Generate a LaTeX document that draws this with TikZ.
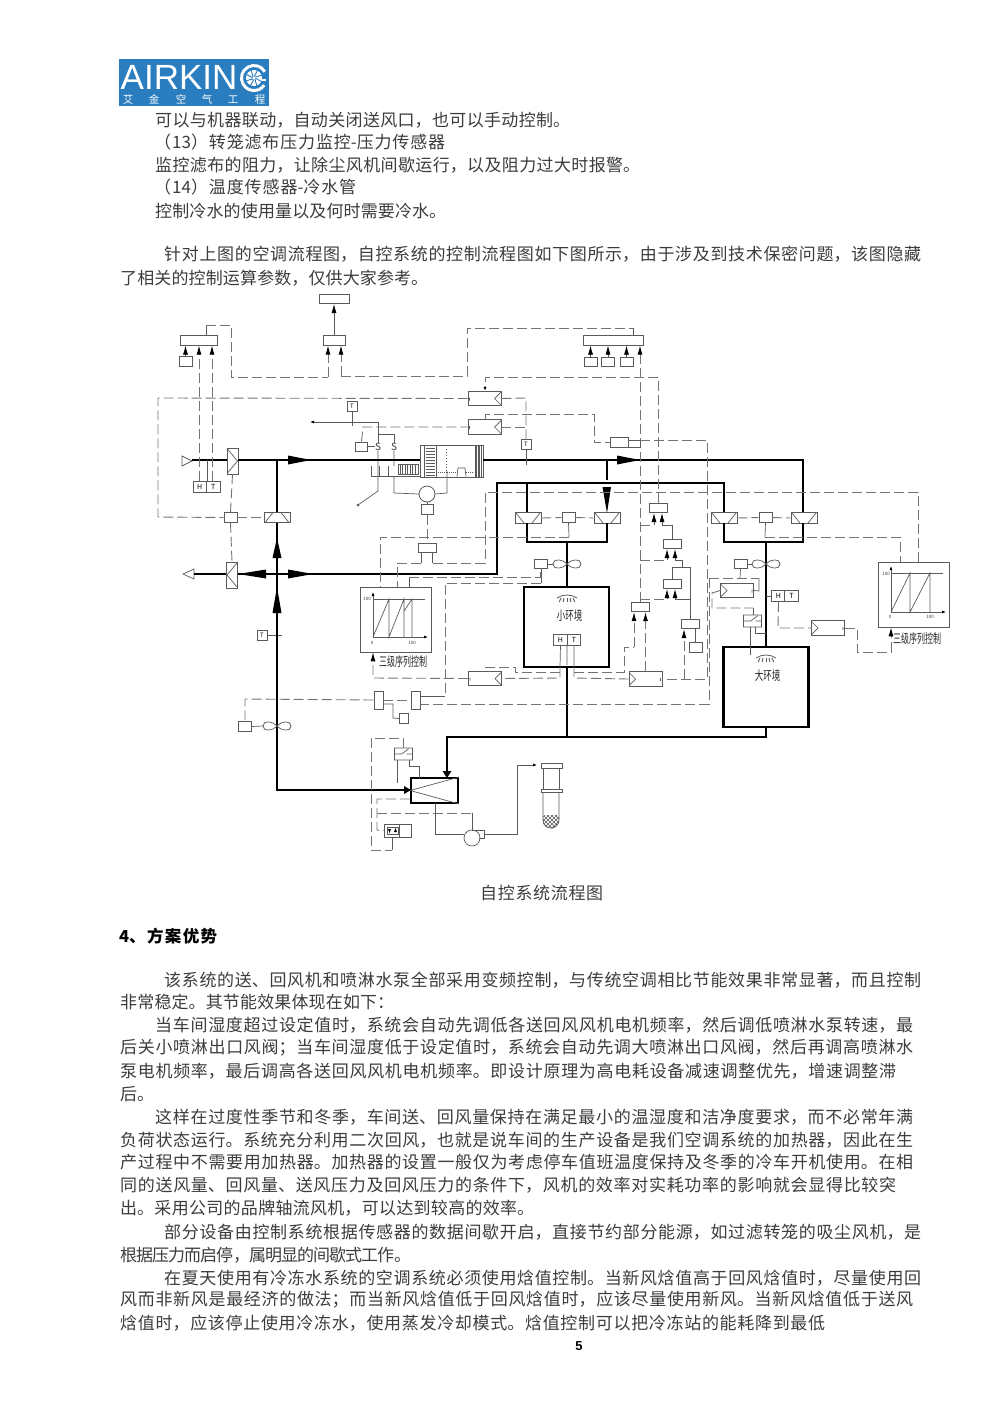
\documentclass[tikz,border=0pt]{standalone}
\usepackage{fontspec}
\setmainfont{Noto Sans CJK SC}
\newfontfamily\logofont{Liberation Sans}
\usetikzlibrary{arrows.meta}
\XeTeXlinebreaklocale "zh"
\XeTeXlinebreakskip=0pt plus 3pt minus 1pt
\tolerance=9999
\definecolor{logoblue}{RGB}{42,125,190}
\definecolor{inktext}{RGB}{60,60,60}
\definecolor{wirecol}{RGB}{90,90,90}
\definecolor{sigcol}{RGB}{115,115,115}
\tikzset{
  line/.style={anchor=west, inner sep=0pt, text=inktext, text width=#1, align=justify,
    font=\fontsize{17}{20}\selectfont, execute at begin node={\parfillskip=0pt\relax}},
  duct/.style={line width=2.8pt, line join=miter},
  wire/.style={draw=wirecol, line width=.7pt},
  sig/.style={draw=sigcol, line width=.9pt, dash pattern=on 10pt off 4pt},
  uptip/.style={-{Latex[length=9pt,width=5pt,black]}},
  smalltip/.style={-{Latex[length=4pt,width=3pt,black]}},
  ctrl/.style={draw=wirecol, line width=.7pt, fill=white, inner sep=0pt, minimum height=9.5pt},
  sbox/.style={ctrl, minimum width=13pt},
  cell/.style={ctrl, minimum width=13.5pt, minimum height=11pt, font=\fontsize{7}{8}\selectfont},
  tbox/.style={ctrl, minimum width=10pt, minimum height=9.5pt, font=\fontsize{6}{7}\selectfont},
  room/.style={draw, line width=2.6pt, inner sep=0pt, minimum width=85pt},
  chart/.style={draw=wirecol, line width=.7pt, inner sep=0pt, minimum width=71pt, minimum height=65pt},
  damperdown/.style={ctrl, minimum width=26pt, minimum height=10.5pt, path picture={
    \draw[wire, shift={(path picture bounding box.center)}] (-12,-5) -- (-4,5) (12,-5) -- (4,5);}},
  damperup/.style={ctrl, minimum width=26pt, minimum height=10.5pt, path picture={
    \draw[wire, shift={(path picture bounding box.center)}] (-12,5) -- (-4,-5) (12,5) -- (4,-5);}},
  damperright/.style={ctrl, minimum width=11pt, minimum height=26pt, path picture={
    \draw[wire, shift={(path picture bounding box.center)}] (-5,-12) -- (5,0) -- (-5,12);}},
  damperleft/.style={ctrl, minimum width=11pt, minimum height=26pt, path picture={
    \draw[wire, shift={(path picture bounding box.center)}] (5,-12) -- (-5,0) -- (5,12);}},
  valvetail/.style={ctrl, minimum width=33pt, minimum height=14.5pt, path picture={
    \draw[wire, shift={(path picture bounding box.center)}] (17,-7) -- (10,0) -- (17,7) (-15,-1) -- (-15,2);}},
  valvehead/.style={ctrl, minimum width=33pt, minimum height=14.5pt, path picture={
    \draw[wire, shift={(path picture bounding box.center)}] (-17,-7) -- (-10,0) -- (-17,7) (15,-1) -- (15,2);}},
  tiny/.style={inner sep=0pt, text=inktext, font=\fontsize{4.5}{5}\selectfont},
  roomname/.style={inner sep=0pt, text=black!85, font=\fontsize{8.5}{9}\selectfont},
  fan/.pic={\draw[wire] (0,0) .. controls (-4,-5) and (-14,-6) .. (-14,0) .. controls (-14,6) and (-4,5) .. (0,0)
    .. controls (4,-5) and (14,-6) .. (14,0) .. controls (14,6) and (4,5) .. (0,0);},
  spray/.pic={\draw[wire, line width=.8pt] (-10,3) .. controls (-4,-1) and (4,-1) .. (10,3);
    \foreach \x in {-6,-3,0,3,6} {\draw[wire, line width=.9pt] (\x,3) -- (1.3*\x,7);}},
  switchbox/.pic={\draw[wire, fill=white] (-9,-6) rectangle (9,6) (-9,0) -- (-2,0) (9,0) -- (3,0) (-2,0) -- (5,-5);},
}
\begin{document}
\begin{tikzpicture}[x=1pt,y=-1pt]
\useasboundingbox (0,0) rectangle (1000,1414);
% logo
\fill[logoblue] (119,59) rectangle (269,106);
\node[inner sep=0pt, anchor=west, white, font=\logofont\fontsize{35}{36}\selectfont] (logoname) at (120.5,77.5) {AIRKIN};
\draw[white, line width=3pt] (254,78) ++(-30:12.5) arc[start angle=-30, end angle=-325, radius=12.5];
\draw[white, line width=2pt] (265.5,80) -- (258,80);
\fill[white] (254,78) circle (8);
\foreach \a in {0,45,...,315} {\draw[logoblue, line width=.9pt] (254,78) ++(\a:1.5) .. controls +(\a+40:3) and +(\a+20:2) .. ++(\a+30:6.5);}
\foreach \x/\c in {128/艾,154/金,181/空,207/气,233/工,260/程} {\node[white, inner sep=0pt, font=\fontsize{10.5}{11}\selectfont] (sub\x) at (\x,99.5) {\c};}

% upper text
\node[line=415pt] (t1) at (155,120) {可以与机器联动，自动关闭送风口，也可以手动控制。};
\node[line=282pt] (t2) at (163,142) {\kern-9pt（\kern1pt 13）转笼滤布压力监控-压力传感器};
\node[line=485pt] (t3) at (155,165) {监控滤布的阻力，让除尘风机间歇运行，以及阻力过大时报警。};
\node[line=193pt] (t4) at (163,187) {\kern-9pt（\kern1pt 14）温度传感器-冷水管};
\node[line=291pt] (t5) at (155,211) {控制冷水的使用量以及何时需要冷水。};
\node[line=757pt] (t6) at (164,254) {针对上图的空调流程图，自控系统的控制流程图如下图所示，由于涉及到技术保密问题，该图隐藏};
\node[line=308pt] (t7) at (120,278) {了相关的控制运算参数，仅供大家参考。};

% controllers
\node[ctrl, minimum width=37pt] (ctrlA) at (198.5,340.5) {};
\node[ctrl, minimum width=22pt] (ctrlB) at (334,340.5) {};
\node[ctrl, minimum width=30pt] (ctrlTop) at (334,299) {};
\node[ctrl, minimum width=60pt] (ctrlC) at (613,340.5) {};
\node[ctrl, minimum width=18pt] (ctrlD) at (658,508) {};
\node[ctrl, minimum width=18pt] (ctrlE) at (672,544) {};
\node[ctrl, minimum width=18pt] (ctrlF) at (672,584) {};
\node[ctrl, minimum width=18pt] (ctrlG) at (640,607) {};
\node[ctrl, minimum width=18pt] (ctrlH) at (690,624) {};
\node[ctrl, minimum width=18pt] (ctrlJ) at (427,548) {};
\node[sbox] (inA) at (185.5,361.5) {};
\node[sbox] (inC1) at (590.5,362) {};
\node[sbox] (inC2) at (608,362) {};
\node[sbox] (inC3) at (626.5,362) {};
\node[sbox] (inH) at (695.5,647.5) {};

% valves
\node[valvetail] (valveA) at (484.5,398.5) {};
\node[valvetail] (valveB) at (484.5,427) {};
\node[valvetail] (valveC) at (485,678.5) {};
\node[valvehead] (valveD) at (645.5,679) {};
\node[valvehead] (valveE) at (737,590.5) {};
\node[valvehead] (valveF) at (828,628) {};
\node[tbox] (tA) at (526,444.5) {T};
\node[tbox] (tB) at (352,406.5) {T};
\node[tbox] (tC) at (262,635.5) {T};
\node[ctrl, minimum width=18pt] (rod) at (619,442.5) {};

% outdoor side
\draw[wire, fill=white] (182,456) -- (192,461) -- (182,466) -- cycle;
\draw[wire, fill=white] (194,569) -- (183,574) -- (194,579) -- cycle;
\coordinate (inlet) at (192,460);
\coordinate (outlet) at (194,574);
\node[damperright] (dTop) at (232.5,461) {};
\node[damperleft] (dLow) at (232,575) {};
\node[damperup] (dMix) at (277,517.5) {};
\node[sbox] (dBox) at (230.5,517.5) {};
\node[cell] (hA) at (199.75,486.5) {H};
\node[cell] (tempA) at (213.25,486.5) {T};
\draw[wire] (tC.east) -- (282,635.5);

% air handler
\node[draw=wirecol, line width=.8pt, fill=white, inner sep=0pt, minimum width=63pt, minimum height=32pt] (ahu) at (451.5,461) {};
\draw[wire] (424,445) -- (424,477) (436,445) -- (436,477);
\foreach \y in {448,451,...,475} {\draw[wire, line width=.5pt] (425.5,\y) -- (434.5,\y);}
\foreach \x in {475,476.5,...,482} {\draw[wire, line width=.5pt] (\x,445) -- (\x,477);}
\draw[wire, line width=1pt, dotted] (446,449) -- (446,471);
\draw[wire, line width=.9pt, densely dotted] (436,472) -- (474,472);
\draw[wire, fill=white] (457,476.5) -- (458,468) -- (465,468) -- (466,476.5);
\draw[wire] (398,464) rectangle (418,474);
\foreach \x in {400,402.5,...,416} {\draw[wire, line width=.6pt] (\x,464) -- (\x,474);}
\draw[wire] (371,466) -- (371,476) -- (420,476) (379,466) -- (379,476) (388,466) -- (388,476);
\node[inner sep=0pt, fill=white, font=\fontsize{10}{11}\selectfont, text=inktext] (stemA) at (378,446.5) {S};
\node[inner sep=0pt, fill=white, font=\fontsize{10}{11}\selectfont, text=inktext] (stemB) at (394,446.5) {S};
\node[sbox, minimum width=11.5pt, minimum height=9pt] (actA) at (361.5,446.5) {};
\coordinate (rodEnd) at (358,505);
\coordinate (sensEnd) at (310,422);
\node[draw=wirecol, line width=.8pt, circle, fill=white, inner sep=0pt, minimum size=16pt] (motor) at (427,494) {};
\node[sbox, minimum width=12pt] (motorBox) at (427,509.5) {};

% wires round the air handler
\draw[wire, smalltip] (378,422) -- (sensEnd);
\draw[wire] (tB.south) -- (352,426);
\draw[wire] (378,422) -- (stemA.north);
\draw[wire] (stemA.south) -- (378,491) -- (rodEnd);
\fill[wirecol] (rodEnd) circle (1.5pt);
\draw[wire] (378,434) -- (394,434) -- (stemB.north);
\draw[wire] (stemB.south) -- (394,466) (394,476) -- (394,493) -- (motor.west);
\draw[wire] (motor.east) -- (447,493) -- (447,471);
\draw[wire] (actA.east) -- (stemA.west);
\draw[wire] (motor.south) -- (motorBox.north);

% supply and return ducts
\draw[duct] (inlet) -- (dTop.west |- inlet);
\draw[duct] (dTop.east |- inlet) -- (ahu.west |- inlet);
\draw[duct] (ahu.east |- inlet) -- (803,460) -- (803,513);
\draw[duct] (277,460) -- (dMix.north);
\draw[duct] (dMix.south) -- (277,790) -- (411,790);
\draw[duct] (outlet) -- (dLow.west |- outlet);
\draw[duct] (dLow.east |- outlet) -- (497,574) -- (497,483) -- (724,483) -- (724,513);
\draw[duct] (527,483) -- (527,513);
\draw[duct] (607,460) -- (607,480);
\fill (288,455.5) -- (311,460) -- (288,464.5) -- cycle;
\fill (617,455.5) -- (640,460) -- (617,464.5) -- cycle;
\fill (602.5,487) -- (611,487) -- (607,513) -- cycle;
\fill (277,538) -- (272.5,558) -- (281.5,558) -- cycle;
\fill (277,587) -- (272.5,613) -- (281.5,613) -- cycle;
\fill (238,574) -- (266,569.5) -- (266,578.5) -- cycle;
\fill (313,574) -- (288,569.5) -- (288,578.5) -- cycle;

% rooms with dampers
\node[damperdown] (dm1) at (528,518) {};
\node[damperdown] (dm2) at (607,518) {};
\node[sbox] (dmBoxA) at (568.5,517.5) {};
\node[damperdown] (dm3) at (724,518) {};
\node[damperdown] (dm4) at (804,518) {};
\node[sbox] (dmBoxB) at (765.5,517.5) {};
\node[room, minimum height=80pt] (smallroom) at (566.5,627) {};
\node[room, minimum height=80pt] (bigroom) at (766,687) {};
\draw[duct] (527,523) -- (527,542) -- (607,542) -- (607,523);
\draw[duct] (724,523) -- (724,542) -- (803,542) -- (803,523);
\draw[duct] (567,542) -- (567,587);
\draw[duct] (766,542) -- (766,647);
\draw[duct] (567,667) -- (567,737);
\draw[duct] (766,727) -- (766,737) -- (447,737) -- (447,770);
\pic at (567,564) {fan};
\pic at (766,564) {fan};
\pic at (277,726) {fan};
\node[sbox] (fanBoxA) at (541,564) {};
\node[sbox] (fanBoxB) at (740.5,564) {};
\node[sbox] (fanBoxC) at (244.5,726.5) {};
\draw[wire] (fanBoxA.east) -- (553,564);
\draw[wire] (fanBoxB.east) -- (752,564);
\draw[wire] (fanBoxC.east) -- (263,726);
\pic at (567,595) {spray};
\pic at (766,655) {spray};
\node[roomname] (smallname) at (569.5,616) {\scalebox{1}[1.5]{小环境}};
\node[roomname] (bigname) at (767.5,676) {\scalebox{1}[1.5]{大环境}};
\node[cell] (hB) at (560.5,639.5) {H};
\node[cell] (tempB) at (574,639.5) {T};
\node[cell] (hC) at (778.5,596) {H};
\node[cell] (tempC) at (791.5,596) {T};
\draw[wire] (766,596) -- (hC.west);
\draw[wire] (hB.south) -- (560,667) (567,645) -- (567,665) (574,645) -- (574,667);

% signal lines, upper part
\draw[wire] (ctrlA.north -| 206,0) -- (206,325);
\draw[sig] (206,325) -- (231,325) -- (231,377) -- (328,377);
\draw[sig, uptip] (328,377) -- (ctrlB.south -| 328,0);
\draw[sig, uptip] (341,376) -- (ctrlB.south -| 341,0);
\draw[sig] (341,376) -- (467,376) -- (467,328) -- (633,328);
\draw[wire] (633,328) -- (ctrlC.north -| 633,0);
\draw[wire, uptip] (ctrlB.north) -- (ctrlTop.south);
\draw[wire, uptip] (inA.north) -- (ctrlA.south -| inA.north);
\draw[sig, uptip] (hA.north -| 199,0) -- (ctrlA.south -| 199,0);
\draw[sig, uptip] (tempA.north -| 212,0) -- (ctrlA.south -| 212,0);
\draw[wire] (207,460) -- (207,481);
\draw[wire, uptip] (inC1.north) -- (ctrlC.south -| inC1.north);
\draw[wire, uptip] (inC2.north) -- (ctrlC.south -| inC2.north);
\draw[wire, uptip] (inC3.north) -- (ctrlC.south -| inC3.north);
\draw[sig, uptip] (ctrlG.north) -- (ctrlC.south -| ctrlG.north);
\draw[sig] (valveA.west) -- (158,398) -- (158,517) -- (dBox.west);
\draw[sig] (dBox.east) -- (dMix.west);
\draw[sig] (dTop.south) -- (dBox.north);
\draw[sig] (dBox.south) -- (dLow.north);
\draw[sig, smalltip] (ctrlD.north) -- (658,377) -- (485,377) -- (valveA.north -| 485,0);
\draw[sig] (valveA.east) -- (526,398) -- (tA.north);
\draw[sig] (valveB.east) -- (526,427);
\draw[wire] (tA.south) -- (526,465);
\draw[sig] (valveB.north -| 485,0) -- (485,414) -- (594,414) -- (594,442.5) -- (rod.west);
\draw[sig] (actA.north) -- (363,427) -- (valveB.west);
\draw[wire] (rod.east) ++(0,-2) -- (640,440.5) -- (640,447) -- (628,447);
\draw[sig] (640,440) -- (707,440) -- (707,679) -- (valveD.east);

% signal lines, control chain
\draw[sig] (640,525) -- (654,525);
\draw[wire, uptip] (654,525) -- (ctrlD.south -| 654,0);
\draw[wire, uptip] (672,525) -- (662,525) -- (ctrlD.south -| 662,0);
\draw[wire] (672,525) -- (ctrlE.north);
\draw[sig] (640,560) -- (667,560);
\draw[wire, uptip] (667,560) -- (ctrlE.south -| 667,0);
\draw[wire, uptip] (682,560) -- (675,560) -- (ctrlE.south -| 675,0);
\draw[wire] (682,560) -- (682,567);
\draw[wire] (ctrlF.north) -- (672,567) -- (690,567) -- (690,619);
\draw[sig] (640,599) -- (667,599);
\draw[wire, uptip] (667,599) -- (ctrlF.south -| 667,0);
\draw[wire, uptip] (690,599) -- (675,599) -- (ctrlF.south -| 675,0);
\draw[sig, uptip] (684,679) -- (ctrlH.south -| 684,0);
\draw[wire] (ctrlH.south -| 695,0) -- (inH.north -| 695,0);
\draw[sig, uptip] (634,647) -- (ctrlG.south -| 634,0);
\draw[sig] (574,672) -- (624,672) -- (624,647) -- (634,647);
\draw[sig, uptip] (valveD.north -| 645.5,0) -- (ctrlG.south -| 645.5,0);
\draw[sig] (574,667) -- (574,678) -- (valveD.west);
\draw[sig] (560,667) -- (560,678) -- (valveC.east);
\draw[sig] (560,672) -- (515,672) -- (515,667) -- (485,667) -- (valveC.north);

% signal lines, damper sets
\draw[sig] (dm1.east) -- (dmBoxA.west);
\draw[sig] (dmBoxA.east) -- (dm2.west);
\draw[sig] (dm3.east) -- (dmBoxB.west);
\draw[sig] (dmBoxB.east) -- (dm4.west);
\draw[wire] (dmBoxA.south) -- (569,537);
\draw[sig] (569,537) -- (380,537) -- (380,587);
\draw[wire] (dmBoxB.south) -- (765,537);
\draw[sig] (765,537) -- (900,537) -- (900,562);
\draw[sig] (918,562) -- (918,492) -- (485,492) -- (485,563) -- (432,563);
\draw[wire] (432,563) -- (ctrlJ.south -| 432,0);
\draw[sig] (motorBox.south) -- (ctrlJ.north);
\draw[wire] (ctrlJ.south -| 421,0) -- (421,563);
\draw[sig] (421,563) -- (397,563) -- (397,587);

% left sequence chart
\node[chart] (chartL) at (395.5,619.5) {};
\draw[wire, smalltip] (373,637) -- (373,592);
\draw[wire, smalltip] (373,637) -- (428,637);
\draw[wire] (373,599) -- (425,599);
\draw[wire] (373,637) -- (389,599) -- (389,637) -- (404,599) -- (404,637) (404,611) -- (412,599) -- (412,637);
\node[tiny] (lL1) at (367,599) {100};
\node[tiny] (lL2) at (372,643) {0};
\node[tiny] (lL3) at (412,643) {100};
\node[roomname, font=\fontsize{8}{9}\selectfont] (capL) at (403,662) {\scalebox{1}[1.6]{三级序列控制}};
\draw[sig, uptip] (valveC.west) -- (373,678) -- (chartL.south -| 373,0);
\draw[wire] (409,587) -- (409,577);
\draw[sig] (409,577) -- (540,577) -- (540,569);
\draw[wire] (fanBoxA.south) -- (541,583);
\draw[sig] (541,583) -- (445,583) -- (445,696);
\draw[wire] (445,696) -- (421,696);

% right sequence chart
\node[chart] (chartR) at (913.5,594.5) {};
\draw[wire, smalltip] (891,612) -- (891,566);
\draw[wire, smalltip] (891,612) -- (946,612);
\draw[wire] (891,573) -- (943,573);
\draw[wire] (891,612) -- (910,573) -- (910,612) -- (930,573) -- (930,612);
\node[tiny] (lR1) at (886,574) {100};
\node[tiny] (lR2) at (890,617) {0};
\node[tiny] (lR3) at (930,617) {100};
\node[roomname, font=\fontsize{8}{9}\selectfont] (capR) at (917,639) {\scalebox{1}[1.6]{三级序列控制}};
\draw[sig] (valveF.east) -- (857,628) -- (857,652) -- (891,652);
\draw[sig, uptip] (891,652) -- (chartR.south -| 891,0);
\draw[sig] (hC.south) -- (778,628) -- (valveF.west);
\coordinate (swBig) at (752.5,621);
\pic at (swBig) {switchbox};
\draw[wire] (750,627) -- (750,655) (755,627) -- (755,633) -- (766,633);
\draw[wire] (fanBoxB.south) -- (740,578);
\draw[sig] (709,578) -- (759,578);
\draw[wire] (759,578) -- (759,591) -- (valveE.east);
\draw[sig] (709,578) -- (709,704) -- (421,704);
\draw[sig] (valveE.west) -- (712,593) -- (712,608) -- (753,608);
\draw[wire] (753,608) -- (753,615);

% lower left pair
\node[ctrl, minimum width=9pt, minimum height=18pt] (pairA) at (378.5,700) {};
\node[ctrl, minimum width=9.5pt, minimum height=18pt] (pairB) at (416,700) {};
\node[sbox, minimum width=9.5pt] (pairBox) at (404,718.5) {};
\draw[sig] (pairA.west) -- (245,699) -- (245,722);
\draw[sig] (pairA.east) -- (pairB.west);
\draw[wire] (383,704) -- (393,704) -- (393,718) -- (pairBox.west);

% cooling coil with pump and tower
\node[draw, line width=1.8pt, inner sep=0pt, minimum width=47pt, minimum height=25pt] (coil) at (434.5,790.5) {};
\draw[wire] (coil.west) -- (coil.north east) (coil.west) -- (coil.south east);
\draw[line width=2.8pt] (447,770) -- (447,772);
\fill (442.5,771) -- (451.5,771) -- (447,778) -- cycle;
\fill (411,790) -- (404,786) -- (404,794) -- cycle;
\coordinate (swCoil) at (403.5,754);
\pic at (swCoil) {switchbox};
\draw[sig] (403,748) -- (403,738) -- (371,738) -- (371,850) -- (392,850);
\draw[wire] (392,850) -- (392,837);
\draw[wire] (397,760) -- (397,783);
\draw[wire] (409,760) -- (409,766) -- (419,766) -- (419,778);
\node[ctrl, minimum width=27pt, minimum height=13pt] (pumpCtl) at (397.5,830.5) {};
\draw[wire] (399,824) -- (399,837) (387,827) rectangle (398,834);
\fill (388,829) -- (391,829) -- (389.5,833) -- cycle;
\fill (394,832) -- (397,832) -- (395.5,828) -- cycle;
\draw[sig] (coil.west |- 0,799) -- (377,799) -- (377,830) -- (pumpCtl.west);
\draw[sig] (377,813) -- (472,813);
\node[draw=wirecol, line width=.7pt, circle, fill=white, inner sep=0pt, minimum size=16pt] (pump) at (472,838) {};
\draw[wire] (472,830) -- (484,830) -- (484,838) -- (479,838);
\draw[wire] (472,813) -- (472,830);
\draw[wire] (435,803) -- (435,834) -- (pump.west |- 0,834);
\draw[wire, smalltip] (484,834) -- (517,834) -- (517,765) -- (537,765);
\node[ctrl, minimum width=21pt, minimum height=5pt] (towerTop) at (551.5,765.5) {};
\node[ctrl, minimum width=21pt, minimum height=3.5pt] (towerMid) at (551.5,791) {};
\draw[wire] (543,768) -- (543,789) (559,768) -- (559,789);
\draw[wire] (543,793) -- (543,820) arc[start angle=180, end angle=0, radius=8] -- (559,793);
\begin{scope}
\clip (543,815) rectangle (559,830) ;
\clip (551,820) circle (8.5);
\foreach \x in {530,534,...,570} {\draw[wirecol, line width=.6pt] (\x,810) -- (\x+20,830) (\x,830) -- (\x+20,810);}
\end{scope}

% caption and lower text
\node[line=123pt] (cap) at (480,893) {自控系统流程图};
\node[line=98pt, font=\fontsize{16.5}{20}\selectfont\bfseries, text=black] (head) at (119,936) {4、方案优势};
\node[line=757pt] (p1) at (164,980) {该系统的送、回风机和喷淋水泵全部采用变频控制，与传统空调相比节能效果非常显著，而且控制};
\node[line=274pt] (p2) at (120,1002) {非常稳定。其节能效果体现在如下：};
\node[line=758pt] (p3) at (155,1025) {当车间湿度超过设定值时，系统会自动先调低各送回风风机电机频率，然后调低喷淋水泵转速，最};
\node[line=793pt] (p4) at (120,1048) {后关小喷淋出口风阀；当车间湿度低于设定值时，系统会自动先调大喷淋出口风阀，然后再调高喷淋水};
\node[line=776pt] (p5) at (120,1071) {泵电机频率，最后调高各送回风风机电机频率。即设计原理为高电耗设备减速调整优先，增速调整滞};
\node[line=26pt] (p6) at (120,1094) {后。};
\node[line=758pt] (p7) at (155,1117) {这样在过度性季节和冬季，车间送、回风量保持在满足最小的温湿度和洁净度要求，而不必常年满};
\node[line=793pt] (p8) at (120,1140) {负荷状态运行。系统充分利用二次回风，也就是说车间的生产设备是我们空调系统的加热器，因此在生};
\node[line=793pt] (p9) at (120,1162) {产过程中不需要用加热器。加热器的设置一般仅为考虑停车值班温度保持及冬季的冷车开机使用。在相};
\node[line=776pt] (p10) at (120,1185) {同的送风量、回风量、送风压力及回风压力的条件下，风机的效率对实耗功率的影响就会显得比较突};
\node[line=414pt] (p11) at (120,1208) {出。采用公司的品牌轴流风机，可以达到较高的效率。};
\node[line=757pt] (p12) at (164,1232) {部分设备由控制系统根据传感器的数据间歇开启，直接节约部分能源，如过滤转笼的吸尘风机，是};
\node[line=291pt] (p13) at (120,1255) {根据压力而启停，属明显的间歇式工作。};
\node[line=757pt] (p14) at (164,1278) {在夏天使用有冷冻水系统的空调系统必须使用焓值控制。当新风焓值高于回风焓值时，尽量使用回};
\node[line=793pt] (p15) at (120,1300) {风而非新风是最经济的做法；而当新风焓值低于回风焓值时，应该尽量使用新风。当新风焓值低于送风};
\node[line=705pt] (p16) at (120,1323) {焓值时，应该停止使用冷冻水，使用蒸发冷却模式。焓值控制可以把冷冻站的能耗降到最低};
\node[inner sep=0pt, font=\logofont\bfseries\fontsize{13}{14}\selectfont] (pageno) at (579,1346) {5};
\end{tikzpicture}
\end{document}
